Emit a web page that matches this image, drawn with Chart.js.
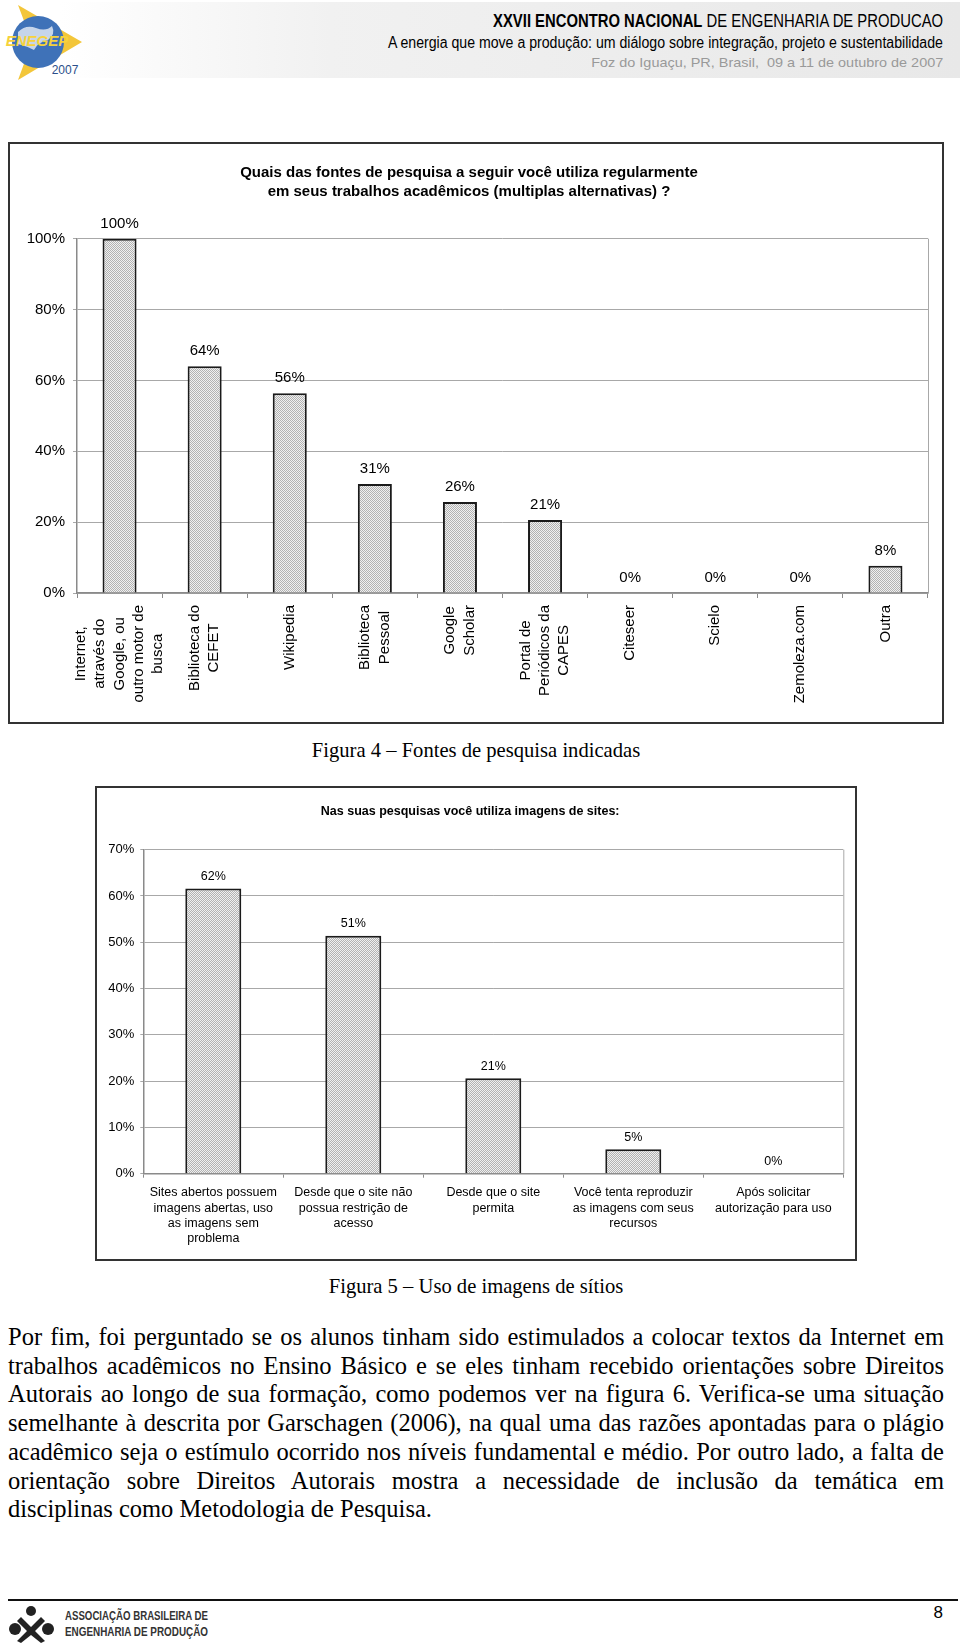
<!DOCTYPE html>
<html>
<head>
    <meta charset="utf-8">
    <title>Fontes de pesquisa</title>
    <script src="https://cdn.jsdelivr.net/npm/chart.js"></script>
    <style>
        body {
            margin: 0;
            width: 960px;
            height: 1647px;
            position: relative;
            overflow: hidden;
            background: #fff;
            font-family: "Liberation Sans", Arial, sans-serif;
            color: #000;
        }

        .abs {
            position: absolute;
        }

        .band {
            left: 60px;
            top: 2px;
            width: 900px;
            height: 76px;
            background: linear-gradient(to right, #fff 0%, #f1f1f1 30%, #e8e8e8 100%);
        }

        .hline {
            right: 17px;
            white-space: nowrap;
            transform-origin: right center;
            line-height: 20px;
        }

        .box {
            border: 2px solid #333;
            box-sizing: border-box;
            background: #fff;
        }

        .box .wrap {
            position: relative;
            width: 100%;
            height: 100%;
        }

        .caption {
            left: 0;
            width: 952px;
            text-align: center;
            font-family: "Liberation Serif", "Times New Roman", serif;
            font-size: 20.6px;
            line-height: 24px;
        }

        .para {
            left: 8px;
            width: 936px;
            font-family: "Liberation Serif", "Times New Roman", serif;
            font-size: 24.5px;
            line-height: 28.7px;
        }

        .para div {
            white-space: nowrap;
        }

        .foot-text {
            left: 65px;
            white-space: nowrap;
            transform-origin: left center;
            font-weight: bold;
            font-size: 12px;
            line-height: 15px;
            color: #333;
        }
    </style>
</head>
<body>
    <!-- page header -->
    <div class="abs band"></div>
    <svg class="abs" style="left:2px;top:2px" width="100" height="80" viewBox="0 0 100 80">
        <polygon points="16,3 80,40 16,78 30,40" fill="#f3c63a"/>
        <circle cx="36" cy="40" r="26" fill="#3f72b8"/>
        <path d="M16 30 q8 -8 18 -4 q10 4 16 -2 q4 8 -4 14 q-10 2 -14 10 q-8 -4 -16 -6z" fill="#e8eef6" opacity="0.8"/>
        <text x="35" y="44" text-anchor="middle" font-family="Liberation Sans" font-weight="bold" font-style="italic" font-size="15" fill="#f6d23c">ENEGEP</text>
        <text x="63" y="72" text-anchor="middle" font-family="Liberation Sans" font-size="12" fill="#2b4f8a">2007</text>
    </svg>
    <div class="abs hline" id="h1" style="top:11px;font-size:18px"><b>XXVII ENCONTRO NACIONAL</b> DE ENGENHARIA DE PRODUCAO</div>
    <div class="abs hline" id="h2" style="top:33px;font-size:16px">A energia que move a produção: um diálogo sobre integração, projeto e sustentabilidade</div>
    <div class="abs hline" id="h3" style="top:53px;font-size:13.5px;color:#999">Foz do Iguaçu, PR, Brasil,&nbsp; 09 a 11 de outubro de 2007</div>

    <!-- figure 4 -->
    <div class="abs box" style="left:8px;top:142px;width:936px;height:582px">
        <div class="wrap"><canvas id="sourcesChart"></canvas></div>
    </div>
    <div class="abs caption" style="top:738px">Figura 4 – Fontes de pesquisa indicadas</div>

    <!-- figure 5 -->
    <div class="abs box" style="left:95px;top:786px;width:762px;height:475px">
        <div class="wrap"><canvas id="imagesChart"></canvas></div>
    </div>
    <div class="abs caption" style="top:1274px">Figura 5 – Uso de imagens de sítios</div>

    <div class="abs para" id="para" style="top:1323px">
        <div>Por fim, foi perguntado se os alunos tinham sido estimulados a colocar textos da Internet em</div>
        <div>trabalhos acadêmicos no Ensino Básico e se eles tinham recebido orientações sobre Direitos</div>
        <div>Autorais ao longo de sua formação, como podemos ver na figura 6. Verifica-se uma situação</div>
        <div>semelhante à descrita por Garschagen (2006), na qual uma das razões apontadas para o plágio</div>
        <div>acadêmico seja o estímulo ocorrido nos níveis fundamental e médio. Por outro lado, a falta de</div>
        <div>orientação sobre Direitos Autorais mostra a necessidade de inclusão da temática em</div>
        <div>disciplinas como Metodologia de Pesquisa.</div>
    </div>

    <!-- page footer -->
    <div class="abs" style="left:8px;top:1599px;width:950px;height:2px;background:#111"></div>
    <svg class="abs" style="left:8px;top:1605px" width="48" height="38" viewBox="0 0 48 38">
        <circle cx="23" cy="6" r="5" fill="#222"/>
        <circle cx="7" cy="24" r="6" fill="#222"/>
        <circle cx="40" cy="24" r="6" fill="#222"/>
        <path d="M13 12 L23 22 L33 12 L37 16 L27 26 L37 36 L33 38 L23 30 L13 38 L9 36 L19 26 L9 16z" fill="#222"/>
    </svg>
    <div class="abs foot-text" id="f1" style="top:1609px">ASSOCIAÇÃO BRASILEIRA DE</div>
    <div class="abs foot-text" id="f2" style="top:1625px">ENGENHARIA DE PRODUÇÃO</div>
    <div class="abs" style="right:17px;top:1603px;font-size:17px;line-height:20px">8</div>

    <script>
        // Figure 4 data
        const sourceLabels = [
            ['Internet,', 'através do', 'Google, ou', 'outro motor de', 'busca'],
            ['Biblioteca do', 'CEFET'],
            ['Wikipedia'],
            ['Biblioteca', 'Pessoal'],
            ['Google', 'Scholar'],
            ['Portal de', 'Periódicos da', 'CAPES'],
            ['Citeseer'],
            ['Scielo'],
            ['Zemoleza.com'],
            ['Outra']
        ];
        const sourceValues = [100, 64, 56.4, 30.8, 25.7, 20.6, 0, 0, 0, 7.7];
        const sourceTicks = [0, 20, 40, 60, 80, 100];
        const sourceTitle = ['Quais das fontes de pesquisa a seguir você utiliza regularmente',
            'em seus trabalhos acadêmicos (multiplas alternativas) ?'];

        // Figure 5 data
        const imageLabels = [
            ['Sites abertos possuem', 'imagens abertas, uso', 'as imagens sem', 'problema'],
            ['Desde que o site não', 'possua restrição de', 'acesso'],
            ['Desde que o site', 'permita'],
            ['Você tenta reproduzir', 'as imagens com seus', 'recursos'],
            ['Após solicitar', 'autorização para uso']
        ];
        const imageValues = [61.6, 51.4, 20.6, 5.3, 0];
        const imageTicks = [0, 10, 20, 30, 40, 50, 60, 70];
        const imageTitle = 'Nas suas pesquisas você utiliza imagens de sites:';

        Chart.defaults.font.family = '"Liberation Sans", Arial, sans-serif';
        Chart.defaults.color = '#000';

        // fine dotted grey fill like the printed bars
        function dotPattern() {
            const c = document.createElement('canvas');
            c.width = 2;
            c.height = 2;
            const g = c.getContext('2d');
            g.fillStyle = '#f0f0f0';
            g.fillRect(0, 0, 2, 2);
            g.fillStyle = '#b2b2b2';
            g.fillRect(0, 0, 1, 1);
            g.fillRect(1, 1, 1, 1);
            return g.createPattern(c, 'repeat');
        }

        // value labels, right frame line, and centred rotated category labels
        const decorPlugin = {
            id: 'decor',
            afterDraw(chart, args, opts) {
                const ctx = chart.ctx;
                const area = chart.chartArea;
                ctx.save();
                ctx.strokeStyle = opts.frameColor;
                ctx.lineWidth = 1;
                ctx.beginPath();
                ctx.moveTo(area.right + 0.5, area.top);
                ctx.lineTo(area.right + 0.5, area.bottom);
                ctx.stroke();

                ctx.fillStyle = '#000';
                ctx.textAlign = 'center';
                ctx.textBaseline = 'middle';
                ctx.font = opts.valueFont;
                const values = chart.data.datasets[0].data;
                chart.getDatasetMeta(0).data.forEach((bar, i) => {
                    ctx.fillText(Math.round(values[i]) + '%', bar.x, bar.y - opts.valueOffset);
                });

                if (opts.rotated) {
                    const xs = chart.scales.x;
                    ctx.font = opts.labelFont;
                    chart.data.labels.forEach((lines, i) => {
                        const x = xs.getPixelForValue(i);
                        const w = Math.max(...lines.map(l => ctx.measureText(l).width));
                        ctx.save();
                        ctx.translate(x, area.bottom + opts.labelGap + w / 2);
                        ctx.rotate(-Math.PI / 2);
                        lines.forEach((l, k) => {
                            ctx.fillText(l, 0, (k - (lines.length - 1) / 2) * opts.lineHeight);
                        });
                        ctx.restore();
                    });
                }
                ctx.restore();
            }
        };

        const pattern = dotPattern();

        new Chart(document.getElementById('sourcesChart'), {
            type: 'bar',
            data: {
                labels: sourceLabels,
                datasets: [{
                    data: sourceValues,
                    backgroundColor: pattern,
                    borderColor: '#1a1a1a',
                    borderWidth: 2,
                    barPercentage: 0.4,
                    categoryPercentage: 1
                }]
            },
            options: {
                responsive: true,
                maintainAspectRatio: false,
                animation: false,
                layout: { padding: { left: 0, right: 14, top: 0, bottom: 0 } },
                plugins: {
                    legend: { display: false },
                    tooltip: { enabled: false },
                    title: {
                        display: true,
                        text: sourceTitle,
                        color: '#000',
                        font: { size: 15, weight: 'bold', lineHeight: 1.3 },
                        padding: { top: 19, bottom: 36.7 }
                    },
                    decor: {
                        frameColor: '#a8a8a8',
                        valueFont: '15px "Liberation Sans", Arial, sans-serif',
                        valueOffset: 15,
                        rotated: true,
                        labelFont: '15px "Liberation Sans", Arial, sans-serif',
                        labelGap: 12,
                        lineHeight: 19.2
                    }
                },
                scales: {
                    x: {
                        grid: { offset: true, drawOnChartArea: false, color: '#8a8a8a', tickLength: 5 },
                        border: { color: '#8a8a8a', width: 1.5 },
                        ticks: { display: false },
                        afterFit(scale) { scale.height = 129; }
                    },
                    y: {
                        min: 0,
                        max: 100,
                        afterBuildTicks(scale) { scale.ticks = sourceTicks.map(v => ({ value: v })); },
                        ticks: { callback: v => v + '%', font: { size: 15 }, color: '#000', padding: 8 },
                        grid: { color: '#a8a8a8', tickLength: 4 },
                        border: { color: '#8a8a8a', width: 1.5 },
                        afterFit(scale) { scale.width = 67; }
                    }
                }
            },
            plugins: [decorPlugin]
        });

        new Chart(document.getElementById('imagesChart'), {
            type: 'bar',
            data: {
                labels: imageLabels,
                datasets: [{
                    data: imageValues,
                    backgroundColor: pattern,
                    borderColor: '#1a1a1a',
                    borderWidth: 2,
                    barPercentage: 0.4,
                    categoryPercentage: 1
                }]
            },
            options: {
                responsive: true,
                maintainAspectRatio: false,
                animation: false,
                layout: { padding: { left: 0, right: 11.7, top: 0, bottom: 0 } },
                plugins: {
                    legend: { display: false },
                    tooltip: { enabled: false },
                    title: {
                        display: true,
                        text: imageTitle,
                        color: '#000',
                        font: { size: 12.5, weight: 'bold', lineHeight: 1.2 },
                        padding: { top: 16.2, bottom: 30.5 }
                    },
                    decor: {
                        frameColor: '#a8a8a8',
                        valueFont: '12.5px "Liberation Sans", Arial, sans-serif',
                        valueOffset: 12,
                        rotated: false
                    }
                },
                scales: {
                    x: {
                        grid: { offset: true, drawOnChartArea: false, color: '#8a8a8a', tickLength: 4 },
                        border: { color: '#8a8a8a', width: 1.5 },
                        ticks: {
                            font: { size: 12.5, lineHeight: 1.224 },
                            color: '#000',
                            padding: 7.5,
                            maxRotation: 0,
                            minRotation: 0,
                            autoSkip: false
                        },
                        afterFit(scale) { scale.height = 85.3; }
                    },
                    y: {
                        min: 0,
                        max: 70,
                        afterBuildTicks(scale) { scale.ticks = imageTicks.map(v => ({ value: v })); },
                        ticks: { callback: v => v + '%', font: { size: 13 }, color: '#000', padding: 6 },
                        grid: { color: '#a8a8a8', tickLength: 3 },
                        border: { color: '#8a8a8a', width: 1.5 },
                        afterFit(scale) { scale.width = 46.3; }
                    }
                }
            },
            plugins: [decorPlugin]
        });

        // squeeze header/footer lines to the printed widths
        function fitWidth(id, target) {
            const el = document.getElementById(id);
            const w = el.getBoundingClientRect().width;
            el.style.transform = 'scaleX(' + (target / w) + ')';
        }
        fitWidth('h1', 450);
        fitWidth('h2', 555);
        fitWidth('h3', 352);
        fitWidth('f1', 143);
        fitWidth('f2', 143);

        // justify the paragraph line by line, last line left as is
        const lines = document.querySelectorAll('#para div');
        lines.forEach((div, i) => {
            if (i === lines.length - 1) return;
            const span = document.createElement('span');
            span.textContent = div.textContent;
            div.textContent = '';
            div.appendChild(span);
            const natural = span.getBoundingClientRect().width;
            const gaps = span.textContent.split(' ').length - 1;
            div.style.wordSpacing = ((936 - natural) / gaps) + 'px';
        });
    </script>
</body>
</html>
